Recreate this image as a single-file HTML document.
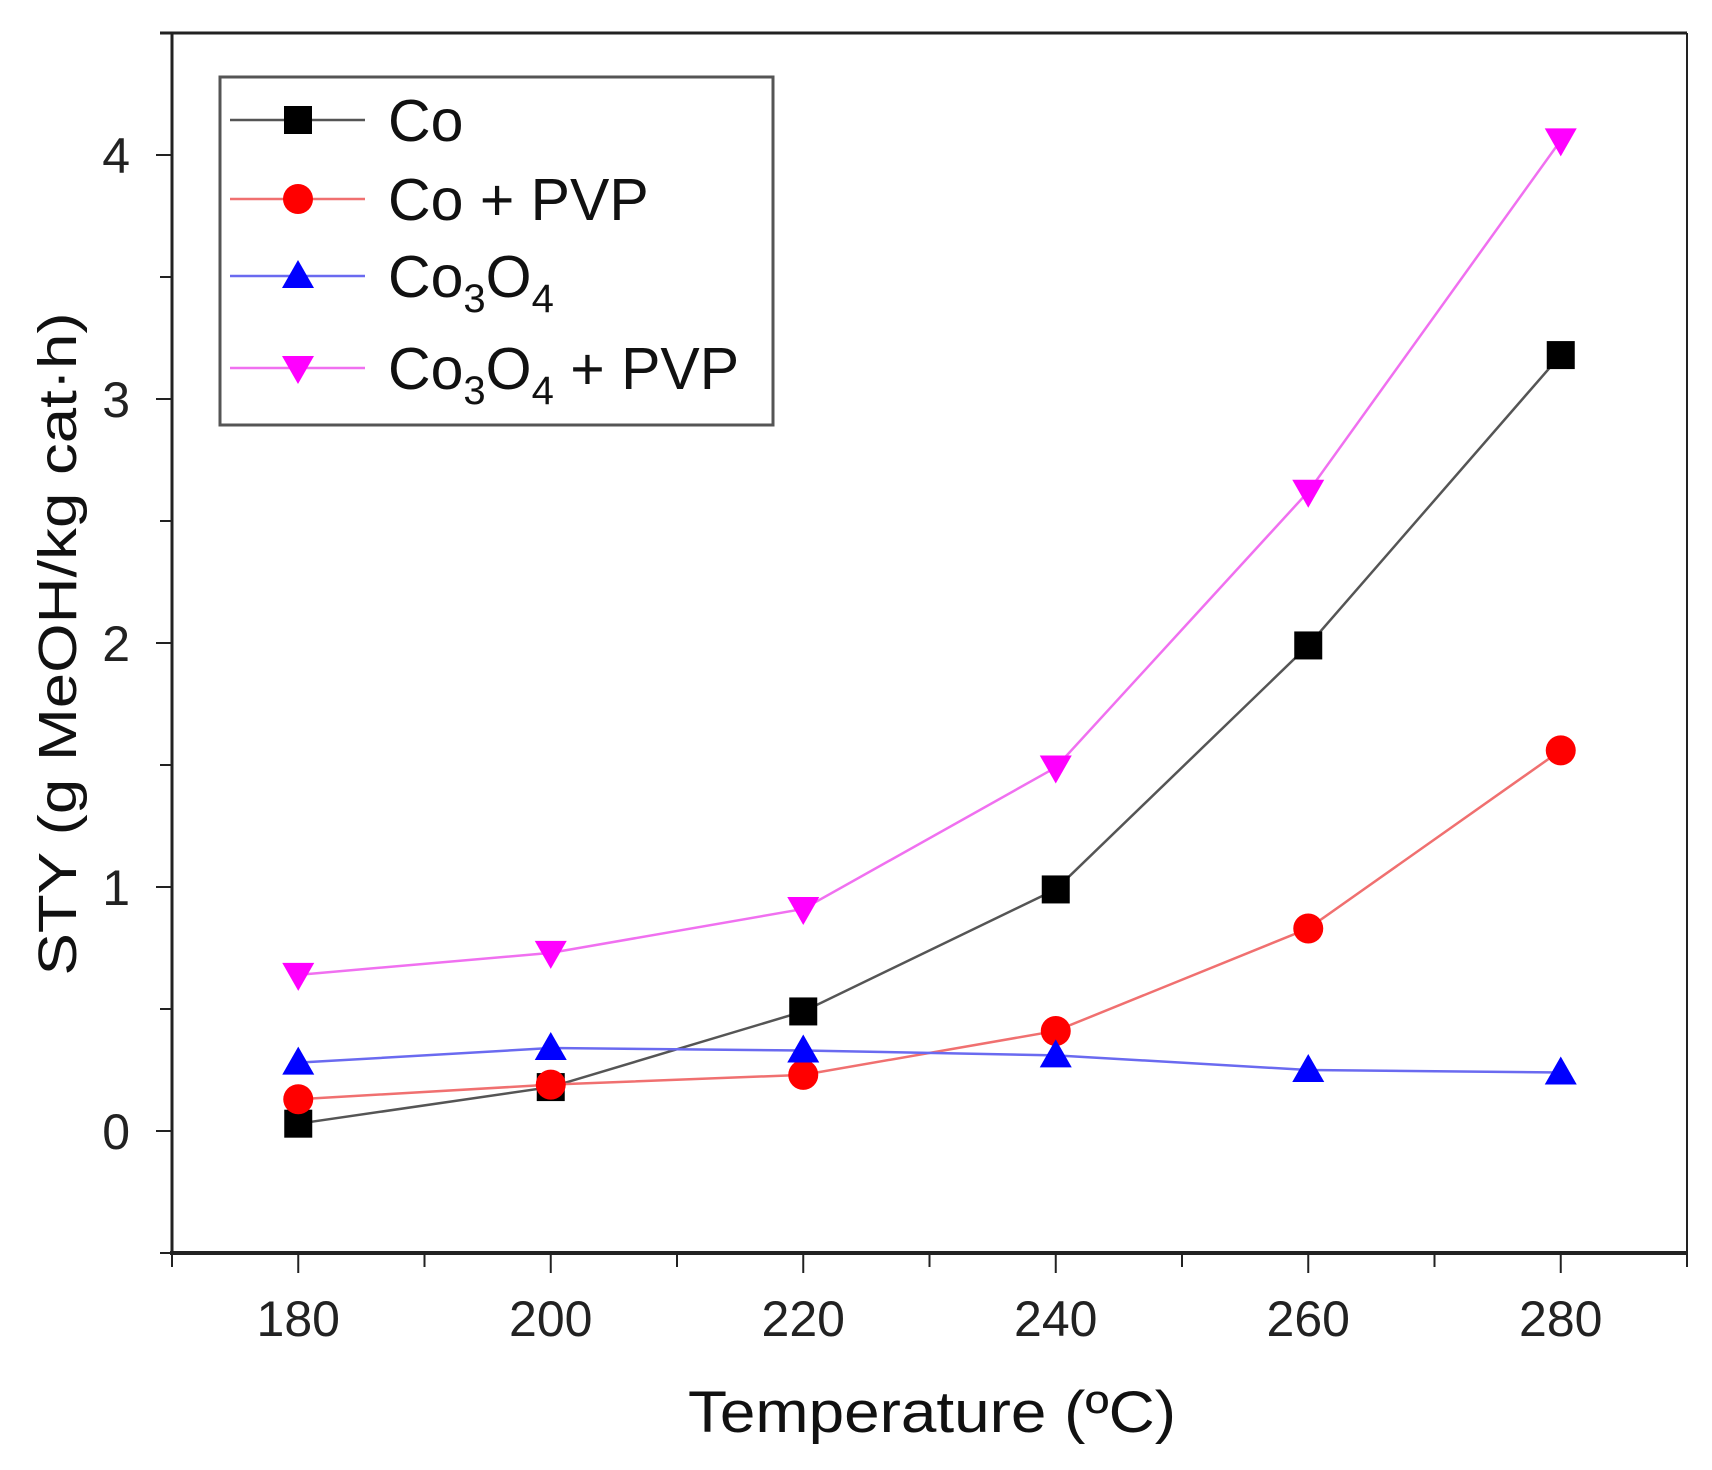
<!DOCTYPE html>
<html><head><meta charset="utf-8"><style>html,body{margin:0;padding:0;background:#fff}svg{display:block}</style></head>
<body>
<svg id="chart" width="1712" height="1470" xmlns="http://www.w3.org/2000/svg" font-family="Liberation Sans, Arial, sans-serif">
<g id="axes"></g><g id="series"></g><g id="legend"></g>
</svg>
<script>
const categories = [180, 200, 220, 240, 260, 280];
const coValues = [0.03, 0.18, 0.49, 0.99, 1.99, 3.18];
const coPvpValues = [0.13, 0.19, 0.23, 0.41, 0.83, 1.56];
const co3o4Values = [0.28, 0.34, 0.33, 0.31, 0.25, 0.24];
const co3o4PvpValues = [0.64, 0.73, 0.91, 1.49, 2.62, 4.06];
const xTicks = [180, 200, 220, 240, 260, 280];
const yTicks = [0, 1, 2, 3, 4];

const NS = 'http://www.w3.org/2000/svg';
const L = 172, R = 1687, T = 33, B = 1253;
const x = v => L + (v - 170) / 120 * (R - L);
const y = v => B - (v + 0.5) / 5 * (B - T);
function mk(tag, attrs, parent) { const e = document.createElementNS(NS, tag); for (const k in attrs) e.setAttribute(k, attrs[k]); parent.appendChild(e); return e; }
const axes = document.getElementById('axes'), ser = document.getElementById('series'), leg = document.getElementById('legend');

let e;
e = mk('line', {x1: L, y1: T, x2: L, y2: B + 2, stroke: '#222', 'stroke-width': 3}, axes);
 
e = mk('line', {x1: L - 2, y1: B, x2: R, y2: B, stroke: '#222', 'stroke-width': 4}, axes);
 
e = mk('line', {x1: L - 12, y1: T, x2: R, y2: T, stroke: '#222', 'stroke-width': 3}, axes);
 
e = mk('line', {x1: R, y1: T, x2: R, y2: B + 10, stroke: '#222', 'stroke-width': 2}, axes);
 

for (let v = 170; v <= 290; v += 10) {
  const major = xTicks.includes(v);
  e = mk('line', {x1: x(v), y1: B, x2: x(v), y2: B + (major ? 20 : 14), stroke: '#222', 'stroke-width': 2}, axes);
   
}
xTicks.forEach(v => {
  e = mk('text', {x: x(v), y: 1336, 'font-size': 50, 'text-anchor': 'middle', fill: '#222'}, axes);
  e.textContent = v;
   
});
for (let v = -0.5; v <= 4.5; v += 0.5) {
  const major = yTicks.includes(v);
  e = mk('line', {x1: L, y1: y(v), x2: L - (major ? 16 : 12), y2: y(v), stroke: '#222', 'stroke-width': 2}, axes);
   
}
yTicks.forEach(v => {
  e = mk('text', {x: 130, y: y(v) + 18, 'font-size': 50, 'text-anchor': 'end', fill: '#222'}, axes);
  e.textContent = v;
   
});
e = mk('text', {x: 932, y: 1432, 'font-size': 58, 'text-anchor': 'middle', fill: '#111', textLength: 488, lengthAdjust: 'spacingAndGlyphs'}, axes);
e.textContent = 'Temperature (ºC)';
 
e = mk('text', {x: 0, y: 0, 'font-size': 54, 'text-anchor': 'middle', fill: '#111', textLength: 663, lengthAdjust: 'spacingAndGlyphs', transform: 'translate(76,644) rotate(-90)'}, axes);
e.textContent = 'STY (g MeOH/kg cat·h)';
 

function marker(shape, cx, cy, color, parent) {
  if (shape === 'square') return mk('rect', {x: cx - 14, y: cy - 14, width: 28, height: 28, fill: color}, parent);
  if (shape === 'circle') return mk('circle', {cx, cy, r: 15, fill: color}, parent);
  if (shape === 'up') return mk('polygon', {points: `${cx},${cy - 16} ${cx - 16},${cy + 12} ${cx + 16},${cy + 12}`, fill: color}, parent);
  return mk('polygon', {points: `${cx},${cy + 16} ${cx - 16},${cy - 12} ${cx + 16},${cy - 12}`, fill: color}, parent);
}
const seriesDefs = [
  {vals: coValues, line: '#555', color: '#000', shape: 'square', name: 'co', label: 'Co'},
  {vals: coPvpValues, line: '#f07070', color: '#f00', shape: 'circle', name: 'co-pvp', label: 'Co + PVP'},
  {vals: co3o4Values, line: '#6a6af0', color: '#00f', shape: 'up', name: 'co3o4', label: 'Co3O4'},
  {vals: co3o4PvpValues, line: '#f070f0', color: '#f0f', shape: 'down', name: 'co3o4-pvp', label: 'Co3O4 + PVP'}
];
seriesDefs.forEach(s => {
  const g = mk('g', {}, ser);
   
  const pl = mk('polyline', {points: categories.map((c, i) => x(c) + ',' + y(s.vals[i])).join(' '), fill: 'none', stroke: s.line, 'stroke-width': 2.5}, g);
   
  categories.forEach((c, i) => {
    const m = marker(s.shape, x(c), y(s.vals[i]), s.color, g);
     
  });
});

e = mk('rect', {x: 220, y: 77, width: 553, height: 348, fill: '#fff', stroke: '#555', 'stroke-width': 3}, leg);
 
const ly = [120, 199, 276, 368];
seriesDefs.forEach((s, i) => {
  const g = mk('g', {}, leg);
   
  mk('line', {x1: 230, y1: ly[i], x2: 365, y2: ly[i], stroke: s.line, 'stroke-width': 2.5}, g);
  marker(s.shape, 298, ly[i], s.color, g);
  const t = mk('text', {x: 388, y: ly[i] + 21, 'font-size': 59, fill: '#111'}, g);
  if (s.label.startsWith('Co3O4')) {
    t.innerHTML = 'Co<tspan font-size="40" dy="15">3</tspan><tspan dy="-15">O</tspan><tspan font-size="40" dy="15">4</tspan><tspan dy="-15">' + s.label.slice(5) + '</tspan>';
  } else t.textContent = s.label;
});
</script>
</body></html>
